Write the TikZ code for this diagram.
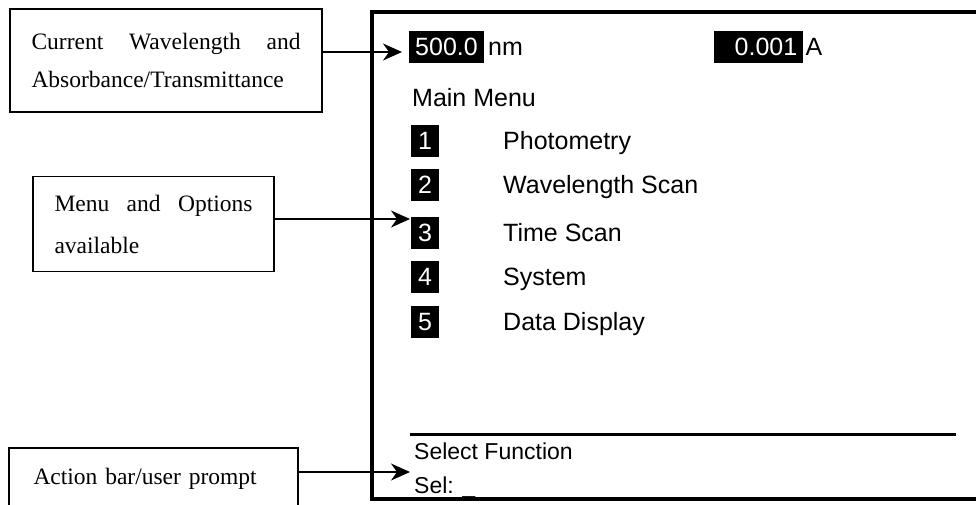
\documentclass[tikz,border=0pt]{standalone}
\usepackage{fontspec}
\setmainfont{Liberation Serif}
\setsansfont{Liberation Sans}
\usetikzlibrary{arrows.meta,positioning}
\begin{document}
\begin{tikzpicture}[
    x=1pt, y=-1pt,
    callout/.style={draw, line width=1.5pt, inner sep=0pt, align=left},
    screen/.style={draw, line width=3.5pt, inner sep=0pt},
    key/.style={fill=black, text=white, inner xsep=7pt, inner ysep=0pt,
        text height=24pt, text depth=8pt, font=\sffamily\fontsize{25}{25}\selectfont},
    item/.style={anchor=base west, inner sep=0pt, font=\sffamily\fontsize{25}{25}\selectfont},
    pointer/.style={line width=1.5pt, -{Stealth[length=19pt,width=17pt,inset=6pt]}}
]
\clip (0,0) rectangle (976,504);

\node[screen, minimum width=620pt, minimum height=487pt] (screen) at (682,255.5) {};

\node[callout, minimum width=312pt, minimum height=103pt, text width=269pt,
    font=\fontsize{23.5}{38}\selectfont] (wlbox) at (166,60.5)
    {Current\hfill Wavelength\hfill and\\Absorbance/Transmittance};
\node[callout, minimum width=241pt, minimum height=95pt, text width=198pt,
    font=\fontsize{23.5}{42}\selectfont] (menubox) at (153.5,224)
    {Menu\hfill and\hfill Options\\available};
\node[callout, minimum width=289pt, minimum height=62pt, text width=240pt,
    font=\fontsize{23.5}{30}\selectfont] (actbox) at (153.5,479)
    {Action bar/user prompt};

\node[key, anchor=base west, inner xsep=6pt] (wl) at (409,55) {500.0};
\node[item, right=4pt of wl.base east, anchor=base west] (nm) {nm};
\node[key, anchor=base west, text width=77pt, align=right, inner xsep=6pt] (abs) at (714,55) {0.001};
\node[item, right=2pt of abs.base east, anchor=base west] (unit) {A};

\node[item] (title) at (412,106) {Main Menu};

\foreach \n/\y/\name in {1/149/Photometry, 2/193/Wavelength Scan, 3/241/Time Scan,
        4/285/System, 5/330/Data Display} {
    \node[key, anchor=base west] (k\n) at (411,\y) {\n};
    \node[item] (m\n) at (503,\y) {\name};
}

\coordinate (barl) at (410,434);
\coordinate (barr) at (956,434);
\draw[line width=3pt] (barl) -- (barr);
\node[item, font=\sffamily\fontsize{23}{23}\selectfont] (prompt) at (414,459) {Select Function};
\node[item, font=\sffamily\fontsize{23}{23}\selectfont] (sel) at (414,493) {Sel: \_};

\coordinate (wltip) at (402,52);
\coordinate (menutip) at (410,219);
\coordinate (acttip) at (410,472);
\draw[pointer] (wlbox.east |- wltip) -- (wltip);
\draw[pointer] (menubox.east |- menutip) -- (menutip);
\draw[pointer] (actbox.east |- acttip) -- (acttip);
\end{tikzpicture}
\end{document}
